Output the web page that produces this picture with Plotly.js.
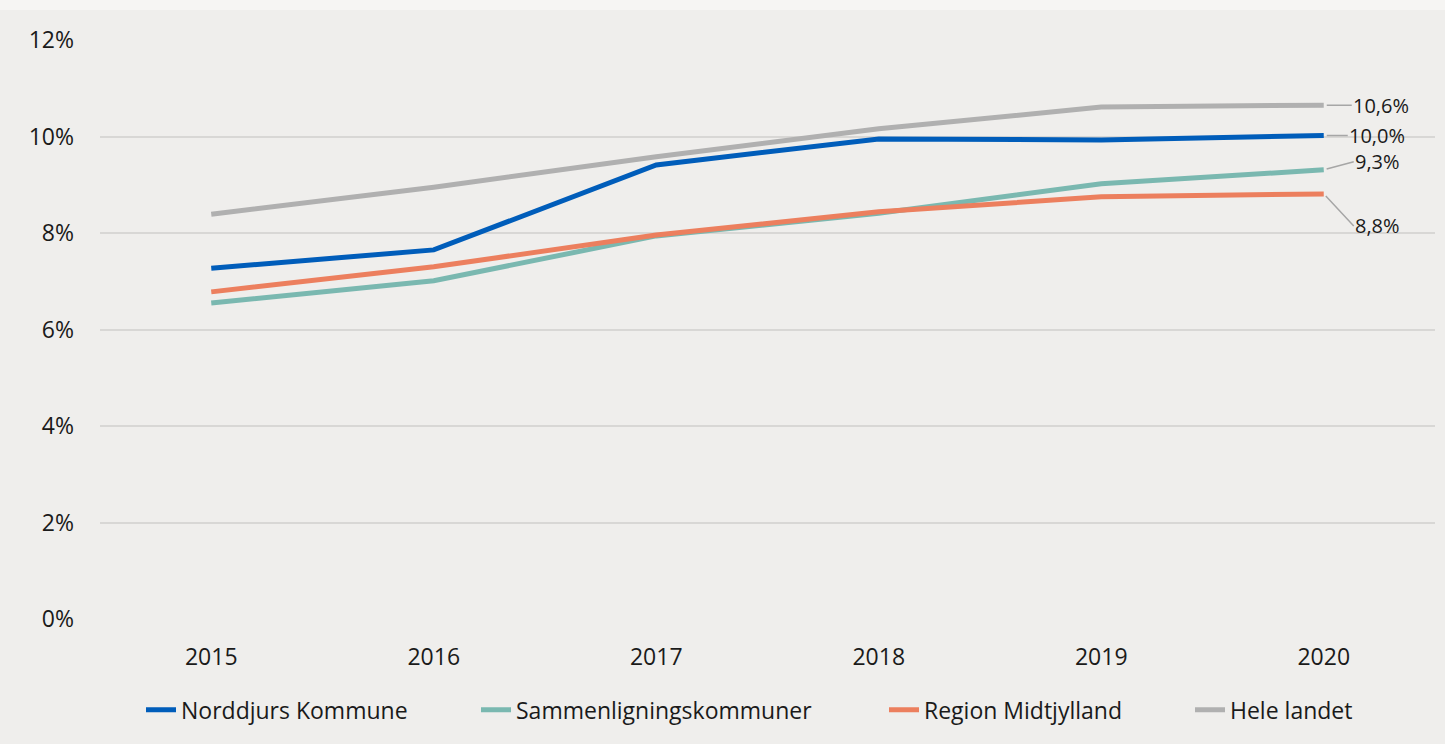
<!DOCTYPE html>
<html>
<head>
<meta charset="utf-8">
<script src="https://cdn.plot.ly/plotly-3.0.1.min.js"></script>
<style>html,body{margin:0;padding:0;background:#efeeec;}#chart{width:1445px;height:744px;}</style>
</head>
<body>
<div id="chart"></div>
<script>
const years = ['2015', '2016', '2017', '2018', '2019', '2020'];
const norddjurs = [7.27, 7.65, 9.41, 9.95, 9.93, 10.02];
const sammenligning = [6.55, 7.01, 7.94, 8.41, 9.02, 9.31];
const region = [6.78, 7.30, 7.96, 8.44, 8.75, 8.81];
const heleLandet = [8.39, 8.95, 9.58, 10.16, 10.61, 10.65];
const seriesNames = ['Norddjurs Kommune', 'Sammenligningskommuner', 'Region Midtjylland', 'Hele landet'];
const seriesColors = ['#005dba', '#7ab8b0', '#ec7f5e', '#b0b0b0'];
const endLabels = ['10,0%', '9,3%', '8,8%', '10,6%'];
const yTicks = [0, 2, 4, 6, 8, 10, 12];
const yTickText = ['0%', '2%', '4%', '6%', '8%', '10%', '12%'];

const allSeries = [norddjurs, sammenligning, region, heleLandet];
const legendIds = ['legend', 'legend2', 'legend3', 'legend4'];
const traces = allSeries.map((vals, i) => ({
  x: years, y: vals, type: 'scatter', mode: 'lines', name: seriesNames[i],
  line: {color: seriesColors[i], width: 5}, legend: legendIds[i]
}));
// gray drawn first so it sits behind
const drawOrder = [3, 1, 2, 0];
const data = drawOrder.map(i => traces[i]);

const lastIdx = years.length - 1;
const labelOffsets = [[24, 0], [30, -8], [30, 32], [28, 0]];
const annotations = allSeries.map((vals, i) => ({
  x: lastIdx, y: vals[lastIdx], xref: 'x', yref: 'y',
  text: endLabels[i], showarrow: true, arrowhead: 0, arrowwidth: 1.5, arrowcolor: '#a6a6a6',
  ax: labelOffsets[i][0], ay: labelOffsets[i][1], xanchor: 'left', yanchor: 'middle', standoff: 3,
  borderpad: 0,
  font: {family: 'Open Sans, Noto Sans, sans-serif', size: 20, color: '#1a1a1a'}
}));

const plotLeft = 100, plotWidth = 1335;
const legendTextStarts = [182, 517, 925, 1231];
const legendBase = {orientation: 'h', y: -0.157, yanchor: 'middle', xanchor: 'left',
  font: {size: 23, color: '#1a1a1a'}, bgcolor: 'rgba(0,0,0,0)'};

const layout = {
  width: 1445, height: 744,
  paper_bgcolor: '#efeeec', plot_bgcolor: '#efeeec',
  margin: {l: 100, r: 10, t: 40, b: 125},
  font: {family: 'Open Sans, Noto Sans, sans-serif', size: 23, color: '#1a1a1a'},
  showlegend: true,
  xaxis: {type: 'category', range: [-0.5, years.length - 0.5], showgrid: false, zeroline: false, showline: false,
    ticks: '', ticklabelstandoff: 22, tickfont: {size: 23}},
  yaxis: {range: [0, 12], tickvals: yTicks, ticktext: yTickText, showgrid: true,
    gridcolor: '#d8d7d5', gridwidth: 1.5, zeroline: false, showline: false, ticks: '',
    ticklabelstandoff: 25, tickfont: {size: 23}},
  shapes: [{type: 'rect', xref: 'paper', yref: 'paper', x0: -0.1, x1: 1.1, y0: 1 + 30 / 579, y1: 1.1,
    fillcolor: '#f6f5f3', line: {width: 0}, layer: 'below'}],
  annotations: annotations
};
legendIds.forEach((id, i) => {
  layout[id] = Object.assign({}, legendBase, {x: (legendTextStarts[i] - 41 - plotLeft) / plotWidth});
});
Plotly.newPlot('chart', data, layout, {displayModeBar: false});
</script>
</body>
</html>
